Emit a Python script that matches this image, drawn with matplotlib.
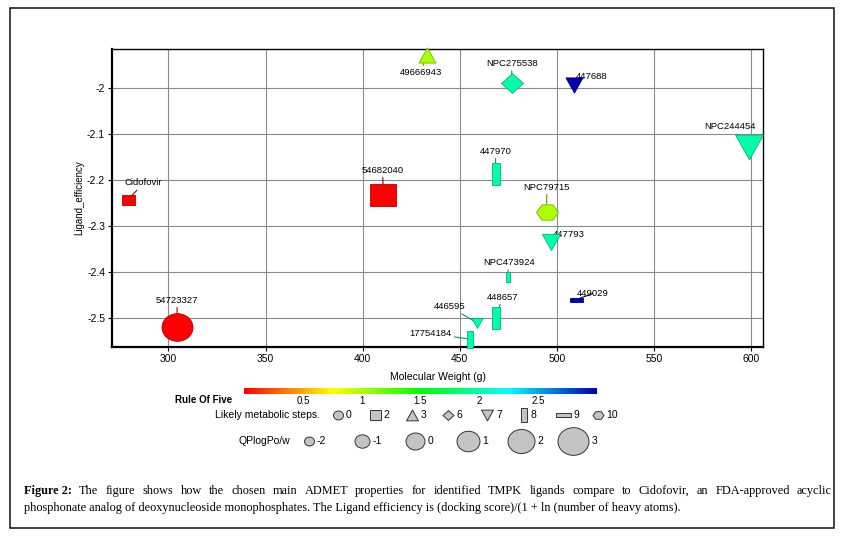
import numpy as np
import matplotlib
matplotlib.use("Agg")
import matplotlib.pyplot as plt
from matplotlib.path import Path
from matplotlib.transforms import Affine2D
from matplotlib.colors import LinearSegmentedColormap, Normalize, to_rgb
from matplotlib.patches import Rectangle
from matplotlib.cm import ScalarMappable

plt.rcParams['font.family'] = ['Liberation Sans', 'DejaVu Sans']

# ---- data ----
names = ['Cidofovir', '54682040', '54723327', '49666943', 'NPC275538', '447688',
         'NPC244454', '447970', 'NPC79715', '447793', 'NPC473924', '449029',
         '448657', '446595', '17754184']
mol_weight = [279.2, 410.7, 304.5, 432.9, 476.7, 508.6, 598.8, 468.4, 494.7,
              496.8, 474.6, 509.7, 468.4, 458.6, 455.0]
lig_eff = [-2.243, -2.233, -2.52, -1.928, -1.99, -1.993, -2.128, -2.187, -2.27,
           -2.335, -2.41, -2.46, -2.50, -2.51, -2.546]
rule_of_five = [0, 0, 0, 1, 2, 3, 2, 2, 1, 2, 2, 3, 2, 2, 2]
metab_steps = [2, 2, 0, 3, 6, 7, 7, 8, 10, 7, 8, 9, 8, 7, 8]
qplogpow = [-1.4, 1.75, 3.0, -0.5, 0.75, -0.5, 2.2, 0.75, 0.75, -0.25, -2.0,
            -1.4, 0.75, -1.8, -0.5]

x_ticks = [300, 350, 400, 450, 500, 550, 600]
y_ticks = [-2, -2.1, -2.2, -2.3, -2.4, -2.5]
cbar_ticks = [0.5, 1, 1.5, 2, 2.5]
step_legend = [0, 2, 3, 6, 7, 8, 9, 10]
qp_legend = [-2, -1, 0, 1, 2, 3]
qp_width_px = [10, 15, 19, 23, 27, 31]   # marker width for each QPlogPo/w level

caption_1 = ('The figure shows how the chosen main ADMET properties for identified '
             'TMPK ligands compare to Cidofovir, an FDA-approved acyclic')
caption_2 = ('phosphonate analog of deoxynucleoside monophosphates. The Ligand '
             'efficiency is (docking score)/(1 + ln (number of heavy atoms).')

# label placement (pixel offsets from marker, ha)
label_pos = {
    'Cidofovir': (-3, 17, 'left'), '54682040': (-1, 25, 'center'),
    '54723327': (0, 27, 'center'), '49666943': (-6, -18, 'center'),
    'NPC275538': (0, 20, 'center'), '447688': (2, 8, 'left'),
    'NPC244454': (-19, 20, 'center'), '447970': (0, 23, 'center'),
    'NPC79715': (0, 25, 'center'), '447793': (2, 8, 'left'),
    'NPC473924': (1, 14, 'center'), '449029': (1, 6, 'left'),
    '448657': (7, 21, 'center'), '446595': (-27, 16, 'center'),
    '17754184': (-39, 6, 'center'),
}

SX = 1.12  # the original image is a bit stretched sideways


def shape(step):
    if step == 0:
        p = Path.unit_circle()
        return p.transformed(Affine2D().scale(SX, 1))
    if step == 2:
        v = [(-1, -0.92), (1, -0.92), (1, 0.92), (-1, 0.92)]
    elif step == 3:
        v = [(0, 1), (-1, -1), (1, -1)]
    elif step == 6:
        v = [(0, 1), (1, 0), (0, -1), (-1, 0)]
    elif step == 7:
        v = [(0, -1), (1, 1), (-1, 1)]
    elif step == 8:
        v = [(-0.36, -1), (0.36, -1), (0.36, 1), (-0.36, 1)]
    elif step == 9:
        v = [(-1, -0.28), (1, -0.28), (1, 0.28), (-1, 0.28)]
    else:
        a = np.radians(np.arange(0, 360, 60))
        v = list(zip(np.cos(a), np.sin(a) * 0.9))
    v = np.array(v + [v[0]], dtype=float)
    v[:, 0] *= SX
    return Path(v, closed=True)


cmap = LinearSegmentedColormap.from_list(
    'ro5', ['#ff0000', '#ffff00', '#00ff00', '#00ffff', '#0000b4'])
norm = Normalize(0, 3)


def darker(c, f=0.7):
    r, g, b = to_rgb(c)
    return (r * f, g * f, b * f)


fig = plt.figure(figsize=(8.43, 5.38), dpi=100)

# overlay in pixel units for frame, legends, caption
lax = fig.add_axes([0, 0, 1, 1])
lax.set_xlim(0, 843)
lax.set_ylim(538, 0)
lax.axis('off')
lax.add_patch(Rectangle((10, 8), 824, 520, fill=False, lw=1.2, ec='#222222'))

ax = fig.add_axes([112 / 843, 1 - 347 / 538, 651 / 843, 298 / 538])
ax.set_xlim(271, 606)
ax.set_ylim(-2.563, -1.915)
ax.set_xticks(x_ticks)
ax.set_yticks(y_ticks)
ax.set_yticklabels([('%g' % t) for t in y_ticks])
ax.tick_params(labelsize=7.5, length=3, width=0.8, pad=2, colors='black')
ax.grid(True, color='#8a8a8a', lw=0.8)
ax.set_axisbelow(True)
for s in ['left', 'bottom']:
    ax.spines[s].set_linewidth(1.6)
for s in ['top', 'right']:
    ax.spines[s].set_linewidth(1.0)
ax.set_xlabel('Molecular Weight (g)', fontsize=7.5, labelpad=6)
ax.set_ylabel('Ligand_efficiency', fontsize=7, labelpad=2)

for i, nm in enumerate(names):
    col = cmap(norm(rule_of_five[i]))
    d_px = np.interp(qplogpow[i], qp_legend, qp_width_px)
    ax.scatter([mol_weight[i]], [lig_eff[i]], marker=shape(metab_steps[i]),
               s=(d_px * 0.72) ** 2, color=col, edgecolors=[darker(col)],
               linewidths=0.6, zorder=4, clip_on=False)
    dx, dy, ha = label_pos[nm]
    ax.annotate(nm, (mol_weight[i], lig_eff[i]), xytext=(dx, dy),
                textcoords='offset pixels', ha=ha, va='center', fontsize=6.8,
                arrowprops=dict(arrowstyle='-', color=darker(col, 0.6), lw=0.8,
                                shrinkA=0, shrinkB=0),
                zorder=3, annotation_clip=False)

# colour bar
cax = fig.add_axes([244 / 843, 1 - 394 / 538, 353 / 843, 6 / 538])
cb = fig.colorbar(ScalarMappable(norm=norm, cmap=cmap), cax=cax,
                  orientation='horizontal')
cb.outline.set_visible(False)
cb.set_ticks(cbar_ticks)
cb.set_ticklabels([('%g' % t) for t in cbar_ticks])
cax.tick_params(length=0, labelsize=7, pad=1.5)
lax.text(232, 400, 'Rule Of Five', ha='right', va='center', fontsize=7,
         fontweight='bold')

# metabolic steps legend
lax.text(320, 415, 'Likely metabolic steps.', ha='right', va='center', fontsize=7.5)
step_x = [338, 375, 412, 448, 487, 524, 563, 598]
step_w = [10, 11, 12, 11, 12, 14, 15, 11]
for k, st in enumerate(step_legend):
    lax.scatter([step_x[k]], [415], marker=shape(st), s=(step_w[k] * 0.72) ** 2,
                color='#c4c4c4', edgecolors='#333333', linewidths=0.7)
    half = step_w[k] / 2 * (0.45 if st == 8 else 1)
    lax.text(step_x[k] + half + 3, 415, str(st), ha='left', va='center',
             fontsize=7.5)

# QPlogPo/w legend
lax.text(290, 441, 'QPlogPo/w', ha='right', va='center', fontsize=7.5)
qp_x = [309, 362, 415, 468, 521, 573]
for k, q in enumerate(qp_legend):
    lax.scatter([qp_x[k]], [441], marker=shape(0), s=(qp_width_px[k] * 0.72) ** 2,
                color='#c4c4c4', edgecolors='#333333', linewidths=0.7)
    lax.text(qp_x[k] + qp_width_px[k] / 2 + 3, 441, str(q), ha='left',
             va='center', fontsize=7.5)

# caption: first line justified between x=24 and x=832, second line ragged
cap_font = dict(family='Liberation Serif', fontsize=8.8)
fig.canvas.draw()
rend = fig.canvas.get_renderer()
words = [('Figure 2:', 'bold')] + [(w, 'normal') for w in caption_1.split()]
arts = []
for w, fw in words:
    t = lax.text(0, 491, w, ha='left', va='center', fontweight=fw, **cap_font)
    arts.append(t)
widths = [t.get_window_extent(rend).width for t in arts]
gap = (832 - 24 - sum(widths)) / (len(arts) - 1)
x = 24
for t, w in zip(arts, widths):
    t.set_x(x)
    x += w + gap
lax.text(24, 508, caption_2, ha='left', va='center', **cap_font)

fig.savefig('out.png', dpi=100)
